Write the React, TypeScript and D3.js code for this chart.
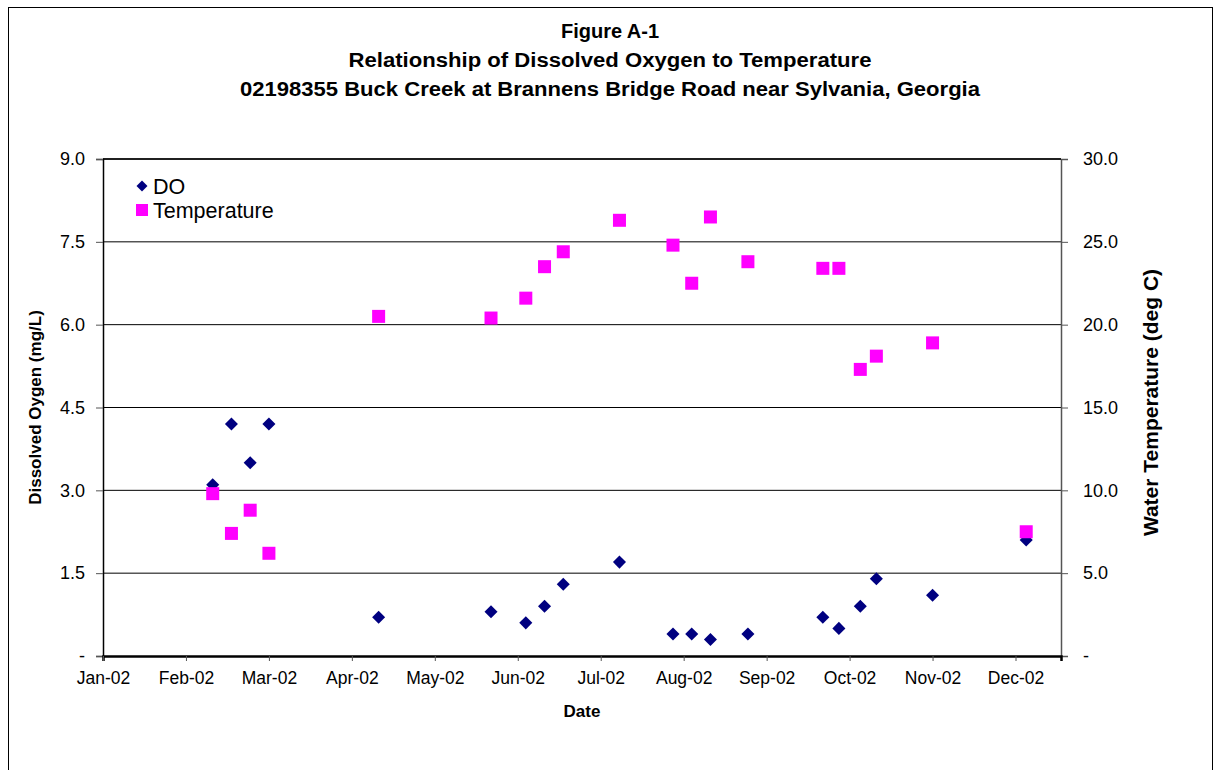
// Figure A-1: dissolved oxygen vs water temperature, Buck Creek 2002.
import { useEffect, useRef } from "react";
import * as d3 from "d3";

const W = 1215;
const H = 770;
const M = { left: 103, right: 1061, top: 159, bottom: 656 };

const dates = [
  "2002-02-11", "2002-02-18", "2002-02-25", "2002-03-04", "2002-04-14",
  "2002-05-26", "2002-06-08", "2002-06-15", "2002-06-22", "2002-07-13",
  "2002-08-02", "2002-08-09", "2002-08-16", "2002-08-30", "2002-09-27",
  "2002-10-03", "2002-10-11", "2002-10-17", "2002-11-07", "2002-12-12",
];
const doValues = [3.1, 4.2, 3.5, 4.2, 0.7, 0.8, 0.6, 0.9, 1.3, 1.7, 0.4, 0.4, 0.3, 0.4, 0.7, 0.5, 0.9, 1.4, 1.1, 2.1];
const tempValues = [9.8, 7.4, 8.8, 6.2, 20.5, 20.4, 21.6, 23.5, 24.4, 26.3, 24.8, 22.5, 26.5, 23.8, 23.4, 23.4, 17.3, 18.1, 18.9, 7.5];

const doTicks = [0, 1.5, 3, 4.5, 6, 7.5, 9];
const tempTicks = [0, 5, 10, 15, 20, 25, 30];
const titleLines = [
  "Figure A-1",
  "Relationship of Dissolved Oxygen to Temperature",
  "02198355 Buck Creek at Brannens Bridge Road near Sylvania, Georgia",
];
// widths; null = natural width
const titleWidths = [null, 523, 740];

const FONT = "Liberation Sans, Arial, sans-serif";

export default function App() {
  const svgRef = useRef<SVGSVGElement | null>(null);

  useEffect(() => {
    if (!svgRef.current) return;
    const svg = d3.select(svgRef.current);
    svg.selectAll("*").remove();

    const parse = d3.timeParse("%Y-%m-%d");
    const start = parse("2002-01-01")!;
    const x = d3.scaleTime()
      .domain([start, parse("2002-12-25")!])
      .range([M.left, M.right]);
    const yL = d3.scaleLinear().domain([0, 9]).range([M.bottom, M.top]);
    const yR = d3.scaleLinear().domain([0, 30]).range([M.bottom, M.top]);

    // month-ish ticks every 31 days, like the Excel scatter axis
    const xTicks = d3.range(0, 12).map((i) => d3.timeDay.offset(start, i * 31));

    svg.append("rect")
      .attr("x", 8.5).attr("y", 7.5)
      .attr("width", 1204).attr("height", 800)
      .attr("fill", "white").attr("stroke", "#000").attr("stroke-width", 1);

    // titles
    titleLines.forEach((t, i) => {
      const txt = svg.append("text")
        .attr("x", 610).attr("y", 38 + i * 29)
        .attr("text-anchor", "middle")
        .attr("font-family", FONT).attr("font-weight", "bold").attr("font-size", 20)
        .text(t);
      if (titleWidths[i]) {
        txt.attr("textLength", titleWidths[i]!).attr("lengthAdjust", "spacingAndGlyphs");
      }
    });

    // gridlines
    svg.append("g")
      .selectAll("line")
      .data(doTicks.filter((d) => d > 0))
      .join("line")
      .attr("x1", M.left).attr("x2", M.right)
      .attr("y1", (d) => yL(d)).attr("y2", (d) => yL(d))
      .attr("stroke", "#000").attr("stroke-width", 1);

    // left axis
    const left = svg.append("g")
      .attr("transform", `translate(${M.left},0)`)
      .call(
        d3.axisLeft(yL).tickValues(doTicks).tickSize(7).tickPadding(11)
          .tickFormat((d) => (+d === 0 ? "-" : d3.format(".1f")(+d)))
      );
    left.select(".domain").attr("stroke", "#000").attr("stroke-width", 1.5);

    // right axis
    const right = svg.append("g")
      .attr("transform", `translate(${M.right},0)`)
      .call(
        d3.axisRight(yR).tickValues(tempTicks).tickSize(7).tickPadding(15)
          .tickFormat((d) => (+d === 0 ? "-" : d3.format(".1f")(+d)))
      );
    right.select(".domain").attr("stroke", "#555").attr("stroke-width", 1.5);

    // bottom axis
    const bottom = svg.append("g")
      .attr("transform", `translate(0,${M.bottom})`)
      .call(
        d3.axisBottom(x).tickValues(xTicks).tickSize(5).tickPadding(11)
          .tickFormat((d) => d3.timeFormat("%b-%y")(d as Date))
      );
    bottom.select(".domain").attr("stroke", "#000").attr("stroke-width", 2.5);

    [left, right, bottom].forEach((g) => {
      g.selectAll("text").attr("font-family", FONT).attr("font-size", 18).attr("fill", "#000");
      g.selectAll(".tick line").attr("stroke", "#555");
    });
    bottom.selectAll("text").attr("font-size", 17.5);

    // top frame line
    svg.append("line")
      .attr("x1", M.left).attr("x2", M.right)
      .attr("y1", M.top).attr("y2", M.top)
      .attr("stroke", "#000").attr("stroke-width", 1.5);

    // axis titles
    svg.append("text")
      .attr("transform", `translate(41,${(M.top + M.bottom) / 2}) rotate(-90)`)
      .attr("text-anchor", "middle")
      .attr("font-family", FONT).attr("font-weight", "bold").attr("font-size", 17)
      .text("Dissolved Oygen (mg/L)");
    svg.append("text")
      .attr("transform", `translate(1158,${(M.top + M.bottom) / 2 - 5}) rotate(-90)`)
      .attr("text-anchor", "middle")
      .attr("font-family", FONT).attr("font-weight", "bold").attr("font-size", 21)
      .text("Water Temperature (deg C)");
    svg.append("text")
      .attr("x", 582).attr("y", 717)
      .attr("text-anchor", "middle")
      .attr("font-family", FONT).attr("font-weight", "bold").attr("font-size", 17)
      .text("Date");

    const pts = dates.map((s, i) => ({ date: parse(s)!, dO: doValues[i], temp: tempValues[i] }));
    const diamond = d3.symbol(d3.symbolSquare, 85)();

    // DO diamonds first, temperature squares on top
    svg.append("g")
      .selectAll("path")
      .data(pts)
      .join("path")
      .attr("d", diamond)
      .attr("transform", (d) => `translate(${x(d.date)},${yL(d.dO)}) rotate(45)`)
      .attr("fill", "#000080");

    svg.append("g")
      .selectAll("rect")
      .data(pts)
      .join("rect")
      .attr("x", (d) => x(d.date) - 6.5)
      .attr("y", (d) => yR(d.temp) - 6.5)
      .attr("width", 13).attr("height", 13)
      .attr("fill", "#FF00FF");

    // legend
    const lg = svg.append("g").attr("transform", "translate(142,186)");
    lg.append("path").attr("d", d3.symbol(d3.symbolSquare, 60)()).attr("transform", "rotate(45)").attr("fill", "#000080");
    lg.append("rect").attr("x", -6).attr("y", 18).attr("width", 12).attr("height", 12).attr("fill", "#FF00FF");
    lg.append("text").attr("x", 11).attr("y", 7.5).attr("font-family", FONT).attr("font-size", 21.5).text("DO");
    lg.append("text").attr("x", 11).attr("y", 31.5).attr("font-family", FONT).attr("font-size", 21.5).text("Temperature");
  }, []);

  return (
    <svg
      ref={svgRef}
      width={W}
      height={H}
      style={{ position: "absolute", left: 0, top: 0, background: "white" }}
    />
  );
}
